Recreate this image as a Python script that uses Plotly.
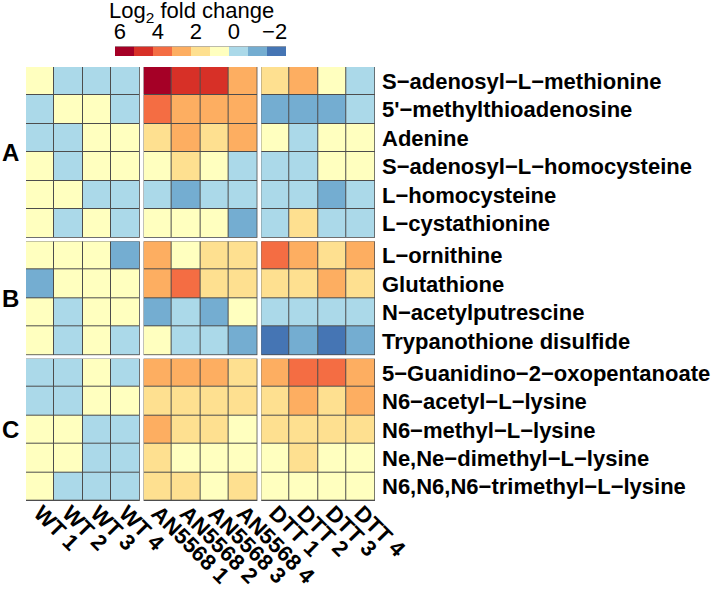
import plotly.graph_objects as go

# ---------------- data ----------------
conditions = ["WT", "AN5568", "DTT"]
col_labels = {
    "WT": ["WT 1", "WT 2", "WT 3", "WT 4"],
    "AN5568": ["AN5568 1", "AN5568 2", "AN5568 3", "AN5568 4"],
    "DTT": ["DTT 1", "DTT 2", "DTT 3", "DTT 4"],
}

group_names = ["A", "B", "C"]

metabolites_A = ["S−adenosyl−L−methionine", "5'−methylthioadenosine", "Adenine",
                 "S−adenosyl−L−homocysteine", "L−homocysteine", "L−cystathionine"]
values_A = [
    [1, 0, 0, 0, 6, 5, 5, 3, 2, 3, 1, 0],
    [0, 1, 1, 0, 4, 3, 3, 3, -1, -1, -1, 0],
    [0, 0, 1, 1, 2, 3, 2, 3, 1, 0, 1, 1],
    [1, 0, 1, 1, 1, 2, 1, 0, 0, 0, 1, 1],
    [1, 1, 0, 0, 0, -1, 0, 0, 0, 0, -1, 0],
    [1, 0, 1, 0, 1, 1, 1, -1, 0, 2, 0, 0],
]

metabolites_B = ["L−ornithine", "Glutathione", "N−acetylputrescine", "Trypanothione disulfide"]
values_B = [
    [1, 1, 1, -1, 3, 1, 2, 2, 4, 3, 2, 3],
    [-1, 1, 1, 1, 3, 4, 2, 2, 2, 2, 3, 2],
    [1, 0, 1, 1, -1, 0, -1, 1, 0, 0, 0, 0],
    [1, 0, 1, 0, 1, 0, 0, -1, -2, -1, -2, -1],
]

metabolites_C = ["5−Guanidino−2−oxopentanoate", "N6−acetyl−L−lysine", "N6−methyl−L−lysine",
                 "Ne,Ne−dimethyl−L−lysine", "N6,N6,N6−trimethyl−L−lysine"]
values_C = [
    [0, 0, 1, 0, 3, 3, 3, 2, 3, 4, 4, 3],
    [0, 0, 1, 1, 2, 2, 2, 2, 2, 3, 2, 3],
    [1, 1, 0, 0, 3, 2, 2, 1, 2, 2, 2, 2],
    [1, 1, 0, 0, 2, 1, 1, 1, 1, 2, 1, 1],
    [1, 0, 0, 0, 2, 2, 1, 2, 1, 1, 1, 1],
]

bin_values = [-2, -1, 0, 1, 2, 3, 4, 5, 6]
bin_colors = ["#4575B4", "#74ADD1", "#ABD9E9", "#FFFFBF", "#FEE090",
              "#FDAE61", "#F46D43", "#D73027", "#A50026"]
legend_order = [6, 5, 4, 3, 2, 1, 0, -1, -2]
legend_tick_pos = [-0.25, 1.75, 3.75, 5.75, 7.9]
legend_tick_text = ["6", "4", "2", "0", "−2"]

# ---------------- layout helpers ----------------
W, H = 713, 591
ML, MR, MT, MB = 26, 338, 40, 90
PW = W - ML - MR
PH = H - MT - MB
HEAT_TOP, HEAT_BOT = 67, 501


def fx(px):
    return (px - ML) / PW


def fy(py):
    return (H - MB - py) / PH


zmin, zmax = bin_values[0] - 0.5, bin_values[-1] + 0.5
n = len(bin_colors)
colorscale = []
for i, c in enumerate(bin_colors):
    colorscale.append([i / n, c])
    colorscale.append([(i + 1) / n, c])

groups = [(metabolites_A, values_A), (metabolites_B, values_B), (metabolites_C, values_C)]

col_gap = 3.8
panel_w = (PW - 2 * col_gap) / 3
row_gap = 3.5
total_rows = sum(len(g[0]) for g in groups)
cell_h = (HEAT_BOT - HEAT_TOP - 2 * row_gap) / total_rows

fig = go.Figure()
LABEL_FONT = "Liberation Sans, Arial, sans-serif"

y_domains = []
cur = HEAT_TOP
for names, _ in groups:
    top = cur
    bot = cur + len(names) * cell_h
    y_domains.append((top, bot))
    cur = bot + row_gap

x_domains = []
for ci in range(3):
    left = ML + ci * (panel_w + col_gap)
    x_domains.append((left, left + panel_w))

for gi, (names, vals) in enumerate(groups):
    for ci, cond in enumerate(conditions):
        z = [row[ci * 4:(ci + 1) * 4] for row in vals]
        fig.add_trace(go.Heatmap(
            z=z, x=col_labels[cond], y=names,
            xaxis="x" + (str(ci + 1) if ci else ""),
            yaxis="y" + (str(gi + 1) if gi else ""),
            colorscale=colorscale, zmin=zmin, zmax=zmax,
            showscale=False, xgap=1, ygap=1, hoverinfo="skip",
        ))

layout = dict(
    width=W, height=H,
    margin=dict(l=ML, r=MR, t=MT, b=MB, pad=0),
    paper_bgcolor="white",
    plot_bgcolor="#4d4d4d",
    showlegend=False,
)

for ci in range(3):
    key = "xaxis" + (str(ci + 1) if ci else "")
    layout[key] = dict(
        domain=[fx(x_domains[ci][0]), fx(x_domains[ci][1])],
        anchor="y3", side="bottom", tickangle=45,
        showgrid=False, zeroline=False, showline=False, ticks="",
        tickfont=dict(family=LABEL_FONT, size=22, color="black", weight="bold"),
        ticklabelstandoff=-6,
        fixedrange=True, automargin=False,
    )

for gi in range(3):
    key = "yaxis" + (str(gi + 1) if gi else "")
    layout[key] = dict(
        domain=[fy(y_domains[gi][1]), fy(y_domains[gi][0])],
        anchor="x3", side="right", autorange="reversed",
        showgrid=False, zeroline=False, showline=False, ticks="",
        tickfont=dict(family=LABEL_FONT, size=22, color="black", weight="bold"),
        ticklabelstandoff=6,
        fixedrange=True, automargin=False,
    )

# legend bar as a small heatmap
fig.add_trace(go.Heatmap(
    z=[legend_order], x=list(range(len(legend_order))), y=[0],
    xaxis="x4", yaxis="y4", colorscale=colorscale, zmin=zmin, zmax=zmax,
    showscale=False, hoverinfo="skip",
))
layout["xaxis4"] = dict(
    domain=[fx(115), fx(286)], anchor="y4", side="top",
    range=[-0.5, len(legend_order) - 0.5],
    tickvals=legend_tick_pos, ticktext=legend_tick_text,
    tickfont=dict(family=LABEL_FONT, size=22, color="black"),
    showgrid=False, zeroline=False, showline=False, ticks="",
    ticklabelstandoff=2, fixedrange=True, automargin=False,
)
layout["yaxis4"] = dict(
    domain=[fy(56), fy(46.5)], anchor="x4", showticklabels=False,
    showgrid=False, zeroline=False, showline=False, ticks="",
    fixedrange=True, automargin=False,
)

annotations = [dict(
    text="Log<sub>2</sub> fold change", x=fx(191), y=fy(12.5),
    xref="paper", yref="paper", xanchor="center", yanchor="middle",
    showarrow=False, font=dict(family=LABEL_FONT, size=22, color="black"),
)]
for gi, g in enumerate(group_names):
    annotations.append(dict(
        text=g, x=fx(10), y=fy((y_domains[gi][0] + y_domains[gi][1]) / 2),
        xref="paper", yref="paper", xanchor="center", yanchor="middle",
        showarrow=False,
        font=dict(family=LABEL_FONT, size=24, color="black", weight="bold"),
    ))
layout["annotations"] = annotations

fig.update_layout(**layout)
fig.write_html(
    "out.html",
    config={"displayModeBar": False},
    post_script="document.body.style.margin='0px';document.body.style.overflow='hidden';",
)
